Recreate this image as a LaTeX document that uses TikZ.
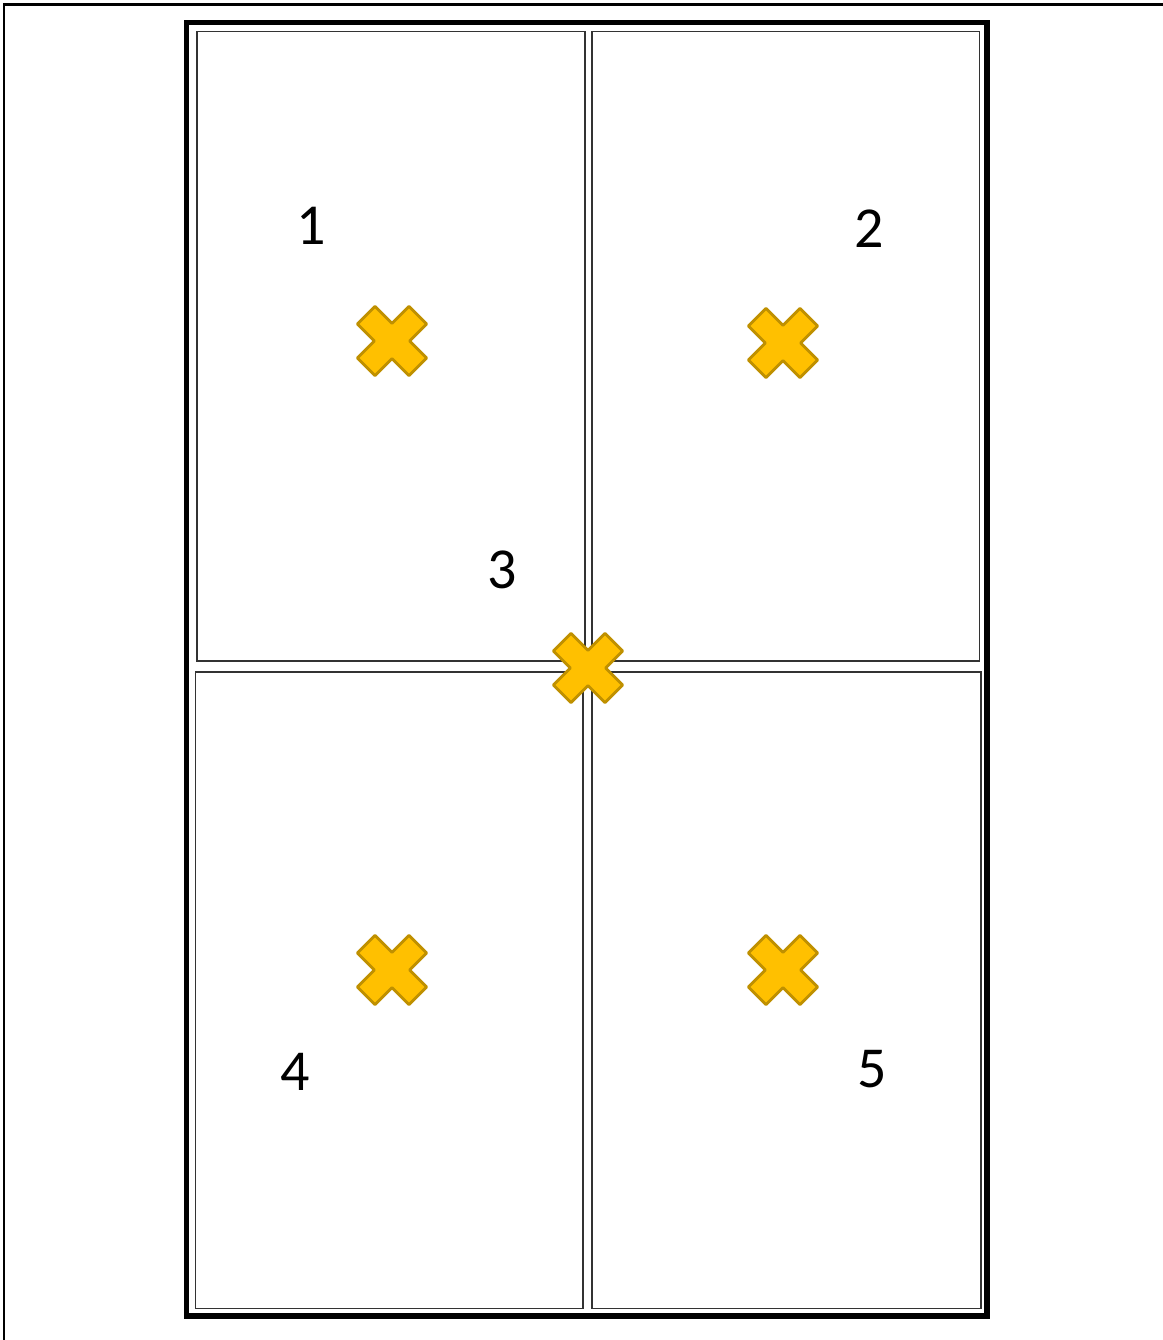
\documentclass[tikz,border=0pt]{standalone}
\usepackage{fontspec}
\setmainfont{Carlito}
\usetikzlibrary{calc}

\tikzset{
    panel/.style={draw=black!80, line width=1pt},
    frame/.style={draw=black, line width=2.9pt},
    crossmark/.style={fill={rgb,255:red,255;green,192;blue,0}, draw={rgb,255:red,191;green,144;blue,0}, line width=1.6pt, line join=round},
    num/.style={font=\fontsize{33}{40}\selectfont, inner sep=0pt}
}

\begin{document}
\begin{tikzpicture}[x=0.02cm, y=-0.02cm]
    % Fix the page size to the screenshot
    \useasboundingbox (0,0) rectangle (1163,1340);

    % Screenshot edges, top and left only
    \draw[line width=1.7pt] (4,1340) -- (4,4) -- (1163,4);

    % Outer thick box
    \draw[frame] (186.5,22.5) rectangle (987,1316);

    % The four panels
    \draw[panel] (197,31.5) rectangle (585,661);     % top left
    \draw[panel] (592,31.5) rectangle (979.5,661);   % top right
    \draw[panel] (195.5,672) rectangle (583,1308.5); % bottom left
    \draw[panel] (592,672) rectangle (981,1308.5);   % bottom right

    % Positions of the marks
    \coordinate (X1) at (392,341);
    \coordinate (X2) at (783,343);
    \coordinate (X3) at (588,668);
    \coordinate (X4) at (392,970);
    \coordinate (X5) at (783,970);

    % Draw the marks as rotated plus shapes
    \def\w{12.5}
    \def\L{36.5}
    \foreach \c in {X1,X2,X3,X4,X5}{
        \draw[crossmark, shift={(\c)}, rotate=45]
            (-\w,-\L) -- (\w,-\L) -- (\w,-\w) -- (\L,-\w) -- (\L,\w) -- (\w,\w)
            -- (\w,\L) -- (-\w,\L) -- (-\w,\w) -- (-\L,\w) -- (-\L,-\w) -- (-\w,-\w) -- cycle;
    }

    % Labels
    \node[num] (l1) at (311,226) {1};
    \node[num] (l2) at (869,229) {2};
    \node[num] (l3) at (502,570) {3};
    \node[num] (l4) at (295,1072) {4};
    \node[num] (l5) at (872,1069) {5};
\end{tikzpicture}
\end{document}
